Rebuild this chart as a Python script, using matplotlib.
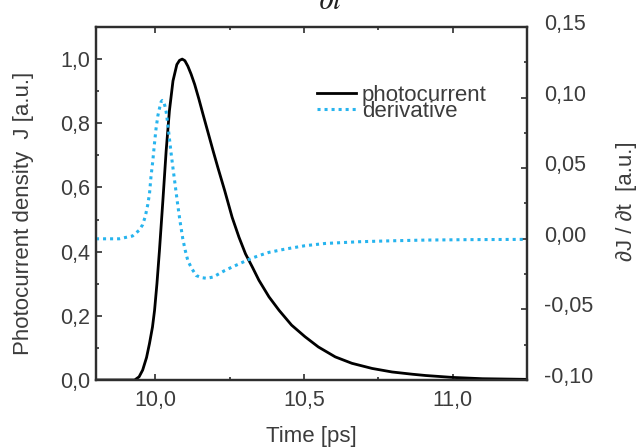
import matplotlib
matplotlib.use("Agg")
import matplotlib.pyplot as plt
from matplotlib.ticker import MultipleLocator, FixedLocator, FixedFormatter
from matplotlib.transforms import ScaledTranslation

plt.rcParams['font.family'] = ['Liberation Sans', 'DejaVu Sans']

# ---- data ----
t_J = [9.80, 9.90, 9.930, 9.945, 9.957, 9.970, 9.980, 9.990, 9.997, 10.005,
       10.0135, 10.025, 10.036, 10.047, 10.059, 10.072, 10.081, 10.090, 10.099,
       10.109, 10.120, 10.132, 10.146, 10.160, 10.177, 10.194, 10.210, 10.233,
       10.258, 10.281, 10.303, 10.326, 10.348, 10.382, 10.416, 10.458, 10.503,
       10.548, 10.605, 10.661, 10.729, 10.796, 10.864, 10.909, 11.00, 11.10,
       11.25]
J = [0.0, 0.0, 0.0, 0.010, 0.031, 0.070, 0.114, 0.165, 0.217, 0.300,
     0.404, 0.559, 0.714, 0.839, 0.932, 0.983, 0.996, 1.000, 0.995,
     0.978, 0.953, 0.921, 0.876, 0.828, 0.771, 0.714, 0.662, 0.590,
     0.507, 0.445, 0.393, 0.352, 0.311, 0.259, 0.217, 0.171, 0.135,
     0.103, 0.072, 0.052, 0.036, 0.025, 0.018, 0.014, 0.008, 0.004,
     0.002]

t_dJ = [9.80, 9.878, 9.923, 9.945, 9.957, 9.966, 9.974, 9.980, 9.985, 9.991,
        9.997, 10.002, 10.008, 10.012, 10.019, 10.023, 10.027, 10.032, 10.036,
        10.041, 10.047, 10.053, 10.059, 10.067, 10.075, 10.083, 10.092, 10.100,
        10.109, 10.122, 10.137, 10.155, 10.173, 10.195, 10.216, 10.233, 10.258,
        10.281, 10.303, 10.326, 10.354, 10.382, 10.436, 10.503, 10.571, 10.683,
        10.796, 10.909, 11.05, 11.25]
dJ = [0.0, 0.0, 0.002, 0.006, 0.010, 0.016, 0.024, 0.032, 0.044, 0.055,
      0.068, 0.078, 0.087, 0.091, 0.097, 0.098, 0.0975, 0.094, 0.090,
      0.082, 0.071, 0.060, 0.050, 0.037, 0.024, 0.012, 0.000, -0.008,
      -0.0155, -0.021, -0.026, -0.0275, -0.028, -0.027, -0.0245, -0.0225, -0.020,
      -0.0178, -0.0157, -0.0136, -0.0115, -0.0096, -0.0073, -0.0049, -0.0033, -0.0021,
      -0.0014, -0.0009, -0.0006, -0.0004]

x_ticks = [10.0, 10.5, 11.0]
x_tick_labels = ['10,0', '10,5', '11,0']
yl_ticks = [0.0, 0.2, 0.4, 0.6, 0.8, 1.0]
yl_tick_labels = ['0,0', '0,2', '0,4', '0,6', '0,8', '1,0']
yr_ticks = [-0.10, -0.05, 0.00, 0.05, 0.10, 0.15]
yr_tick_labels = ['-0,10', '-0,05', '0,00', '0,05', '0,10', '0,15']

txt = '#3c3c3c'
spine_c = '#2e2e2e'
blue = '#27b4ee'
fs_tick = 15.5
fs_lab = 16

fig = plt.figure(figsize=(6.44, 4.48), dpi=100)
ax = fig.add_axes([96/644, 68/448, 431/644, 353/448])
ax2 = ax.twinx()

l1, = ax.plot(t_J, J, color='black', lw=2.0, label='photocurrent',
              solid_joinstyle='round')
l2, = ax2.plot(t_dJ, dJ, color=blue, lw=2.2, linestyle=(0, (1, 1.3)),
               label='derivative')

ax.set_xlim(9.8, 11.25)
ax.set_ylim(0, 1.1)
ax2.set_ylim(-0.10, 0.15)

ax.xaxis.set_major_locator(FixedLocator(x_ticks))
ax.xaxis.set_major_formatter(FixedFormatter(x_tick_labels))
ax.xaxis.set_minor_locator(MultipleLocator(0.25))
ax.yaxis.set_major_locator(FixedLocator(yl_ticks))
ax.yaxis.set_major_formatter(FixedFormatter(yl_tick_labels))
ax.yaxis.set_minor_locator(MultipleLocator(0.1))
ax2.yaxis.set_major_locator(FixedLocator(yr_ticks))
ax2.yaxis.set_major_formatter(FixedFormatter(yr_tick_labels))
ax2.yaxis.set_minor_locator(MultipleLocator(0.025))

for a in (ax, ax2):
    for s in a.spines.values():
        s.set_color(spine_c)
        s.set_linewidth(1.6)

ax.tick_params(which='both', direction='in', top=True, right=False,
               color=spine_c, labelcolor=txt, labelsize=fs_tick, width=1.2)
ax.tick_params(which='major', length=4.5)
ax.tick_params(which='minor', length=2.5)
ax.tick_params(axis='y', pad=4)
ax.tick_params(axis='x', pad=7)
ax2.tick_params(which='both', direction='in', left=False, right=True,
                color=spine_c, labelcolor=txt, labelsize=fs_tick, width=1.2)
ax2.tick_params(which='major', length=4.5, pad=12)
ax2.tick_params(which='minor', length=2.5)

# right-hand tick labels sit a few pixels above their ticks in the reference
shift = ScaledTranslation(0, 5/100, fig.dpi_scale_trans)
for lab in ax2.get_yticklabels():
    lab.set_transform(lab.get_transform() + shift)

ax.set_xlabel('Time [ps]', fontsize=fs_lab, color=txt, va='center')
ax.xaxis.set_label_coords(0.5, -0.161)
ax.set_ylabel('Photocurrent density  J [a.u.]', fontsize=fs_lab, color=txt,
              va='center')
ax.yaxis.set_label_coords(-0.169, 0.473)
ax2.set_ylabel('\u2202J / \u2202t  [a.u.]', fontsize=fs_lab, color=txt,
               va='center', rotation=90)
ax2.yaxis.set_label_coords(1.23, 0.507)

leg = ax2.legend(handles=[l1, l2], loc='upper left',
                 bbox_to_anchor=(0.513, 0.837), frameon=False,
                 fontsize=fs_lab, labelspacing=-0.225, handlelength=1.75,
                 handletextpad=0.27, borderpad=0, borderaxespad=0)
for t in leg.get_texts():
    t.set_color(txt)

fig.text(318/644, 1 - 9/448, r'$\partial t$', fontsize=22, va='baseline',
         ha='left', color='#222222', math_fontfamily='stix')

fig.savefig('out.png', dpi=100)
